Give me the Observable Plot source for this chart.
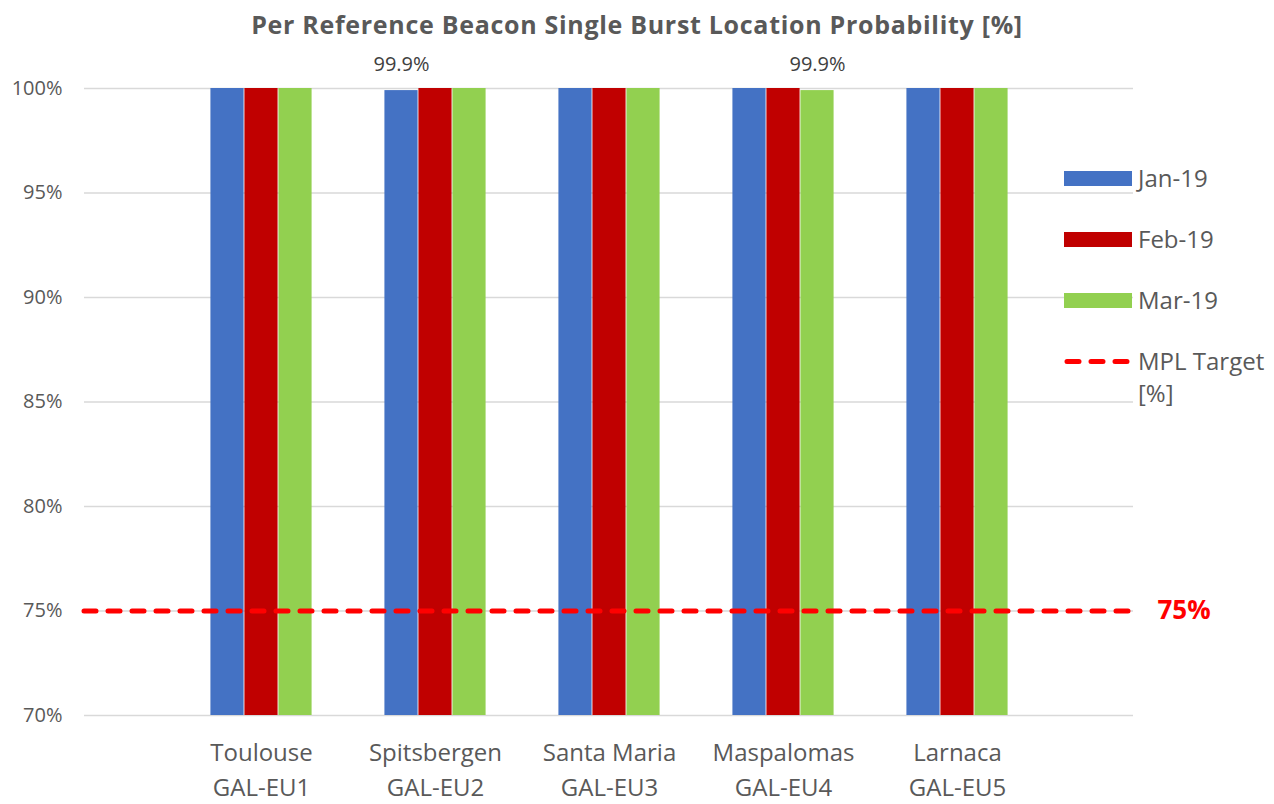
<!DOCTYPE html>
<html><head><meta charset="utf-8">
<script src="https://cdn.jsdelivr.net/npm/d3@7"></script>
<script src="https://cdn.jsdelivr.net/npm/@observablehq/plot@0.6"></script>
<style>
body{margin:0;background:#fff;font-family:"Open Sans",sans-serif;}
#wrap{position:relative;width:1274px;height:804px;overflow:hidden;}
#title{position:absolute;left:0;top:0;width:1274px;line-height:48px;text-align:center;font-weight:bold;font-size:25px;letter-spacing:0.7px;color:#595959;white-space:nowrap;}
#chart{position:absolute;left:0;top:0;}
#legend{position:absolute;left:1064px;top:162px;}
.row{display:flex;align-items:flex-start;height:61px;}
.sw{width:68px;height:15px;margin-top:8.5px;flex:none;}
.lab{margin-left:6px;font-size:24px;line-height:32px;color:#595959;}
</style></head>
<body><div id="wrap"><div id="chart"></div><div id="title">Per Reference Beacon Single Burst Location Probability [%]</div><div id="legend"></div></div>
<script>
const sites = ["Toulouse","Spitsbergen","Santa Maria","Maspalomas","Larnaca"];
const codes = ["GAL-EU1","GAL-EU2","GAL-EU3","GAL-EU4","GAL-EU5"];
const months = ["Jan-19","Feb-19","Mar-19"];
const jan = [100,99.9,100,100,100];
const feb = [100,100,100,100,100];
const mar = [100,100,100,99.9,100];
const target = 75;
const targetLabel = "MPL Target [%]";
const colors = ["#4472C4","#C00000","#92D050"];
const yTicks = [70,75,80,85,90,95,100];

const series = [jan, feb, mar];
const rows = [];
series.forEach((vals, k) => vals.forEach((v, i) => rows.push({site: sites[i], month: months[k], value: v})));

const W = 1274, H = 804, mL = 84, mR = 141, mT = 88, mB = 89;
const step = (W - mL - mR) / 6;
const barW = 34;
const off = (step - 3 * barW) / 2;

const marks = [
  Plot.gridY(yTicks, {stroke: "#d9d9d9", strokeOpacity: 1, strokeWidth: 1.5}),
  Plot.axisY(yTicks, {tickSize: 0, tickPadding: 22, tickFormat: d => d + "%", fontSize: 20, fill: "#595959"}),
];
months.forEach((m, k) => {
  const d = rows.filter(r => r.month === m);
  marks.push(Plot.barY(d, {x: "site", y1: 70, y2: "value", fill: colors[k],
    insetLeft: off + k * barW, insetRight: step - off - (k + 1) * barW}));
});
marks.push(Plot.ruleY([target], {stroke: "#ff0000", strokeWidth: 5, strokeDasharray: "12,12", strokeLinecap: "round"}));
months.forEach((m, k) => {
  const d = rows.filter(r => r.month === m && r.value < 100);
  marks.push(Plot.text(d, {x: "site", y: "value", text: r => r.value.toFixed(1) + "%", dx: (k - 1) * barW, dy: -26, fontSize: 20, fill: "#404040"}));
});
marks.push(Plot.text([target], {y: d => d, text: d => d + "%", frameAnchor: "right", textAnchor: "start", dx: 24, fontSize: 26, fontWeight: "bold", fill: "#ff0000"}));
marks.push(Plot.axisX({tickSize: 0, tickPadding: 21, tickFormat: d => d + "\n" + codes[sites.indexOf(d)], fontSize: 24, lineHeight: 1.46, fill: "#595959"}));

const chart = Plot.plot({
  width: W, height: H, marginLeft: mL, marginRight: mR, marginTop: mT, marginBottom: mB,
  style: {fontFamily: "'Open Sans', sans-serif", color: "#595959", background: "#fff"},
  x: {domain: sites, paddingInner: 0, paddingOuter: 0.5, label: null},
  y: {domain: [70, 100], label: null},
  marks
});
document.getElementById("chart").appendChild(chart);

const leg = document.getElementById("legend");
months.forEach((m, k) => {
  leg.insertAdjacentHTML("beforeend", `<div class="row"><div class="sw" style="background:${colors[k]}"></div><div class="lab">${m}</div></div>`);
});
leg.insertAdjacentHTML("beforeend", `<div class="row"><svg class="sw" width="68" height="15" style="overflow:visible"><line x1="3" x2="66" y1="7.5" y2="7.5" stroke="#ff0000" stroke-width="5" stroke-dasharray="12,12" stroke-linecap="round"/></svg><div class="lab">${targetLabel.replace(" [", "<br>[")}</div></div>`);
</script></body></html>
